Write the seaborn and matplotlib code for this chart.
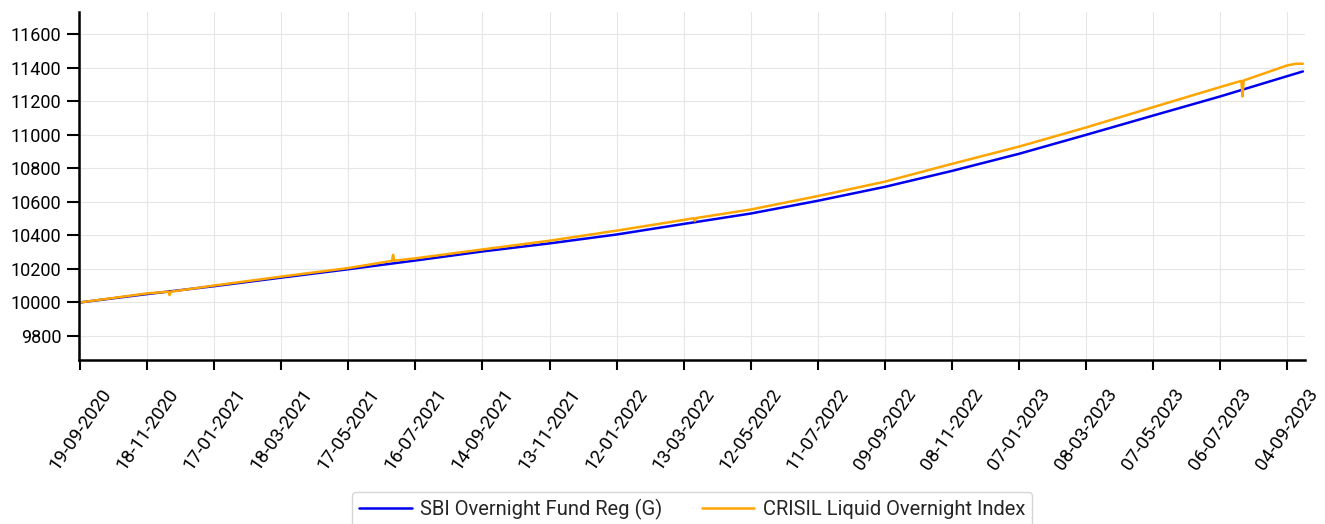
import matplotlib.pyplot as plt
import matplotlib.dates as mdates
import pandas as pd
import seaborn as sns

# values
fund_name = "SBI Overnight Fund Reg (G)"
index_name = "CRISIL Liquid Overnight Index"

fund_dates = [
    "2020-09-19", "2020-11-18", "2021-01-17", "2021-03-18", "2021-05-17",
    "2021-07-16", "2021-09-14", "2021-11-13", "2022-01-12", "2022-03-13",
    "2022-05-12", "2022-07-11", "2022-09-09", "2022-11-08", "2023-01-07",
    "2023-03-08", "2023-05-07", "2023-07-06", "2023-09-04", "2023-09-18",
]
fund_values = [
    10000, 10050, 10097, 10148, 10198,
    10250, 10304, 10352, 10405, 10468,
    10530, 10606, 10689, 10784, 10886,
    10999, 11114, 11228, 11349, 11377,
]

index_dates = [
    "2020-09-19", "2020-11-18", "2020-12-07", "2020-12-08", "2020-12-09",
    "2021-01-17", "2021-03-18", "2021-05-17", "2021-06-25", "2021-06-26",
    "2021-06-27", "2021-07-16", "2021-09-14", "2021-11-13", "2022-01-12",
    "2022-03-13", "2022-03-22", "2022-03-23", "2022-03-24", "2022-05-12",
    "2022-07-11", "2022-09-09", "2022-11-08", "2023-01-07", "2023-03-08",
    "2023-05-07", "2023-07-06", "2023-07-25", "2023-07-26", "2023-07-27",
    "2023-09-04", "2023-09-12", "2023-09-18",
]
index_values = [
    10000, 10054, 10064, 10044, 10064,
    10101, 10154, 10205, 10248, 10284,
    10249, 10263, 10316, 10368, 10428,
    10492, 10502, 10486, 10503, 10554,
    10634, 10720, 10826, 10929, 11043,
    11164, 11284, 11321, 11228, 11323,
    11413, 11423, 11423,
]

tick_labels = [
    "19-09-2020", "18-11-2020", "17-01-2021", "18-03-2021", "17-05-2021",
    "16-07-2021", "14-09-2021", "13-11-2021", "12-01-2022", "13-03-2022",
    "12-05-2022", "11-07-2022", "09-09-2022", "08-11-2022", "07-01-2023",
    "08-03-2023", "07-05-2023", "06-07-2023", "04-09-2023",
]
y_ticks = [9800, 10000, 10200, 10400, 10600, 10800, 11000, 11200, 11400, 11600]


def main() -> None:
    sns.set_theme(style="ticks")
    plt.rcParams["font.family"] = ["Roboto", "DejaVu Sans"]

    fund = pd.DataFrame({"date": pd.to_datetime(fund_dates), "value": fund_values})
    index = pd.DataFrame({"date": pd.to_datetime(index_dates), "value": index_values})

    fig = plt.figure(figsize=(13.25, 5.24), dpi=100)
    ax = fig.add_axes([0.0596, 0.313, 0.9254, 0.664])

    sns.lineplot(data=fund, x="date", y="value", color="#0000ee", linewidth=1.8,
                 label=fund_name, ax=ax)
    sns.lineplot(data=index, x="date", y="value", color="#ffa500", linewidth=1.8,
                 label=index_name, ax=ax)

    ticks = pd.to_datetime(tick_labels, format="%d-%m-%Y")
    ax.set_xticks(ticks)
    ax.xaxis.set_major_formatter(mdates.DateFormatter("%d-%m-%Y"))
    ax.set_xlim(pd.Timestamp("2020-09-18"), pd.Timestamp("2023-09-20"))
    ax.set_yticks(y_ticks)
    ax.set_ylim(9657, 11731)

    ax.set_xlabel("")
    ax.set_ylabel("")
    ax.tick_params(axis="x", labelsize=13.5, rotation=55, length=7, width=1.5, pad=11,
                   color="black", labelcolor="black")
    ax.tick_params(axis="y", labelsize=13, length=9, width=1.5, color="black",
                   labelcolor="black")
    for lbl in ax.get_xticklabels():
        lbl.set_ha("center")

    ax.grid(True, color="#e6e6e6", linewidth=0.8)
    ax.set_axisbelow(True)
    sns.despine(ax=ax)
    for side in ["left", "bottom"]:
        ax.spines[side].set_color("black")
        ax.spines[side].set_linewidth(1.8)

    ax.legend(loc="upper center", bbox_to_anchor=(0.5, -0.35), ncol=2, fontsize=14.5,
              frameon=True, edgecolor="#cccccc", fancybox=True, handlelength=2.6,
              handletextpad=0.4, columnspacing=2.0, borderpad=0.35)

    fig.savefig("out.png", dpi=100)
    plt.close(fig)


if __name__ == "__main__":
    main()
